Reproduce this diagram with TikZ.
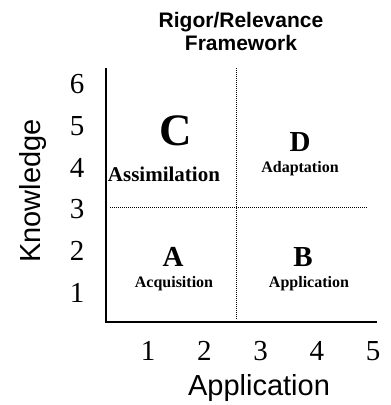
\documentclass[tikz,border=0pt]{standalone}
\usepackage{fontspec}
\setmainfont{Liberation Serif}
\setsansfont{Liberation Sans}
\usepackage{tikz}

\begin{document}
\begin{tikzpicture}[x=1pt, y=-1pt,
		axisline/.style={line width=1.6pt},
		gridline/.style={densely dotted, line width=1pt},
		ticklabel/.style={inner sep=0pt, font=\fontsize{29}{29}\selectfont},
		axislabel/.style={inner sep=0pt, font=\sffamily\fontsize{29}{29}\selectfont},
		quadletter/.style={inner sep=0pt, font=\bfseries\fontsize{29}{29}\selectfont},
		quadname/.style={inner sep=0pt, anchor=base, font=\bfseries\fontsize{16}{16}\selectfont}]
	\useasboundingbox (0,0) rectangle (391,405);
	\begin{scope}
		% title
		\node[inner sep=0pt, anchor=north, align=center, font=\sffamily\bfseries\fontsize{21}{23}\selectfont] (title) at (241,12) {Rigor/Relevance\\Framework};

		% axes
		\coordinate (origin) at (106,322);
		\coordinate (ytop) at (106,68);
		\coordinate (xend) at (377,322);
		\draw[axisline] (ytop) -- (origin) -- (xend);

		% quadrant lines
		\coordinate (vtop) at (236,68);
		\coordinate (vbot) at (236,320);
		\coordinate (hleft) at (110,207);
		\coordinate (hright) at (367,207);
		\draw[gridline] (vtop) -- (vbot);
		\draw[gridline] (hleft) -- (hright);

		% ticks
		\foreach \k in {1,...,6}
			\node[ticklabel] (ytick\k) at (77, 293-41.8*\k+41.8) {\k};
		\foreach \k in {1,...,5}
			\node[ticklabel] (xtick\k) at (148+56.3*\k-56.3, 351) {\k};

		\node[axislabel, anchor=base] (xlabel) at (259,395) {Application};
		\node[axislabel, anchor=base, rotate=90] (ylabel) at (40,191) {Knowledge};

		% quadrants
		\node[quadletter, font=\bfseries\fontsize{45}{45}\selectfont] (qC) at (176,131) {C};
		\node[quadname, font=\bfseries\fontsize{21}{21}\selectfont] (nameC) at (164,181) {Assimilation};
		\node[quadletter] (qD) at (300,142) {D};
		\node[quadname] (nameD) at (300,172) {Adaptation};
		\node[quadletter] (qA) at (173,257) {A};
		\node[quadname] (nameA) at (174,287) {Acquisition};
		\node[quadletter] (qB) at (303,257) {B};
		\node[quadname] (nameB) at (309,287) {Application};
	\end{scope}
\end{tikzpicture}
\end{document}
